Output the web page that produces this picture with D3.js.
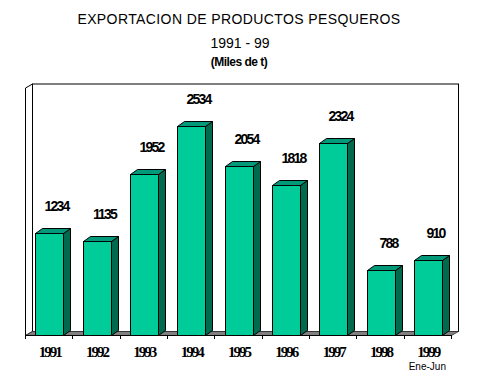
<!DOCTYPE html>
<html><head><meta charset="utf-8">
<script src="https://cdn.jsdelivr.net/npm/d3@7"></script>
<style>html,body{margin:0;padding:0;background:#fff;}svg{display:block;}</style>
</head><body>
<script>
const years = ["1991","1992","1993","1994","1995","1996","1997","1998","1999"];
const values = [1234,1135,1952,2534,2054,1818,2324,788,910];
const notes = {"1999":"Ene-Jun"};
const titleLines = ["EXPORTACION DE PRODUCTOS PESQUEROS","1991 - 99","(Miles de t)"];
const yDomain = [0,3000];

const W=479,H=382;
const svg=d3.select("body").append("svg").attr("width",W).attr("height",H);
svg.append("rect").attr("width",W).attr("height",H).attr("fill","#fff");

const x=d3.scaleBand().domain(years).range([25,451]).padding(0);
const y=d3.scaleLinear().domain(yDomain).range([335,87.5]);
const DX=7,DY=-4;      // wall depth
const BDX=7,BDY=-5;    // bar depth
const step=x.step();

// titles
svg.append("text").attr("x",239).attr("y",24).attr("text-anchor","middle")
  .attr("font-family","Arial, 'Liberation Sans', sans-serif").attr("font-size",14)
  .attr("letter-spacing","0.4px").text(titleLines[0]);
svg.append("text").attr("x",240).attr("y",48).attr("text-anchor","middle")
  .attr("font-family","Arial, 'Liberation Sans', sans-serif").attr("font-size",14)
  .text(titleLines[1]);
svg.append("text").attr("x",239).attr("y",66).attr("text-anchor","middle")
  .attr("font-family","Arial, 'Liberation Sans', sans-serif").attr("font-size",12)
  .attr("font-weight","bold").attr("letter-spacing","-0.5px").text(titleLines[2]);

const x0=x.range()[0], x1=x.range()[1];
const yb=y(yDomain[0]), yt=y(yDomain[1]);
const g=svg.append("g");
// back wall
g.append("rect").attr("x",x0+DX+0.5).attr("y",yt+DY+0.5)
  .attr("width",x1-x0).attr("height",yb-yt)
  .attr("fill","#fff").attr("stroke","#000").attr("stroke-width",1);
// left side wall
g.append("path").attr("d",`M${x0+0.5},${yt+0.5}L${x0+DX+0.5},${yt+DY+0.5}L${x0+DX+0.5},${yb+DY+0.5}L${x0+0.5},${yb+0.5}Z`)
  .attr("fill","#fff").attr("stroke","#000").attr("stroke-width",1);
// floor
g.append("path").attr("d",`M${x0+0.5},${yb+0.5}L${x0+DX+0.5},${yb+DY+0.5}L${x1+DX+0.5},${yb+DY+0.5}L${x1+0.5},${yb+0.5}Z`)
  .attr("fill","#808080").attr("stroke","#333").attr("stroke-width",0.8);

// bars
const bars=g.selectAll("g.bar").data(years.map((c,i)=>({c,v:values[i]}))).join("g").attr("class","bar");
bars.each(function(d){
  const sel=d3.select(this);
  const bx=Math.round(x(d.c)+step*0.215)+0.5;
  const bw=Math.round(step*0.59);
  const ty=Math.round(y(d.v))+0.5;
  const by=yb+0.5;
  // side
  sel.append("path").attr("d",`M${bx+bw},${ty}L${bx+bw+BDX},${ty+BDY}L${bx+bw+BDX},${by+BDY}L${bx+bw},${by}Z`)
    .attr("fill","#006a4e").attr("stroke","#000").attr("stroke-width",1).attr("stroke-linejoin","round");
  // top
  sel.append("path").attr("d",`M${bx},${ty}L${bx+BDX},${ty+BDY}L${bx+bw+BDX},${ty+BDY}L${bx+bw},${ty}Z`)
    .attr("fill","#00997a").attr("stroke","#000").attr("stroke-width",1).attr("stroke-linejoin","round");
  // front
  sel.append("rect").attr("x",bx).attr("y",ty).attr("width",bw).attr("height",by-ty)
    .attr("fill","#00cc99").attr("stroke","#000").attr("stroke-width",1);
  // value label
  sel.append("text").attr("x",bx+bw/2+7).attr("y",ty-23)
    .attr("text-anchor","middle").attr("font-family","Arial, 'Liberation Sans', sans-serif")
    .attr("font-size",14).attr("font-weight","bold").attr("letter-spacing","-1.8px")
    .text(d.v);
});

// x axis line and ticks
const ax=svg.append("g");
ax.append("line").attr("x1",x0).attr("x2",x1+1).attr("y1",yb+0.5).attr("y2",yb+0.5).attr("stroke","#000");
const bounds=years.map(c=>x(c)).concat([x1]);
ax.selectAll("line.tk").data(bounds).join("line").attr("class","tk")
  .attr("x1",d=>Math.round(d)+0.5).attr("x2",d=>Math.round(d)+0.5)
  .attr("y1",yb).attr("y2",yb+4).attr("stroke","#000");
ax.selectAll("text.yl").data(years).join("text").attr("class","yl")
  .attr("x",d=>x(d)+step/2+1).attr("y",357).attr("text-anchor","middle")
  .attr("font-family","'Times New Roman', 'Liberation Serif', serif").attr("font-size",15)
  .attr("font-weight","bold").attr("letter-spacing","-2px").text(d=>d);
ax.selectAll("text.note").data(years.filter(d=>notes[d])).join("text").attr("class","note")
  .attr("x",d=>x(d)+step/2).attr("y",370).attr("text-anchor","middle")
  .attr("font-family","Arial, 'Liberation Sans', sans-serif").attr("font-size",10)
  .text(d=>notes[d]);
</script>
</body></html>
